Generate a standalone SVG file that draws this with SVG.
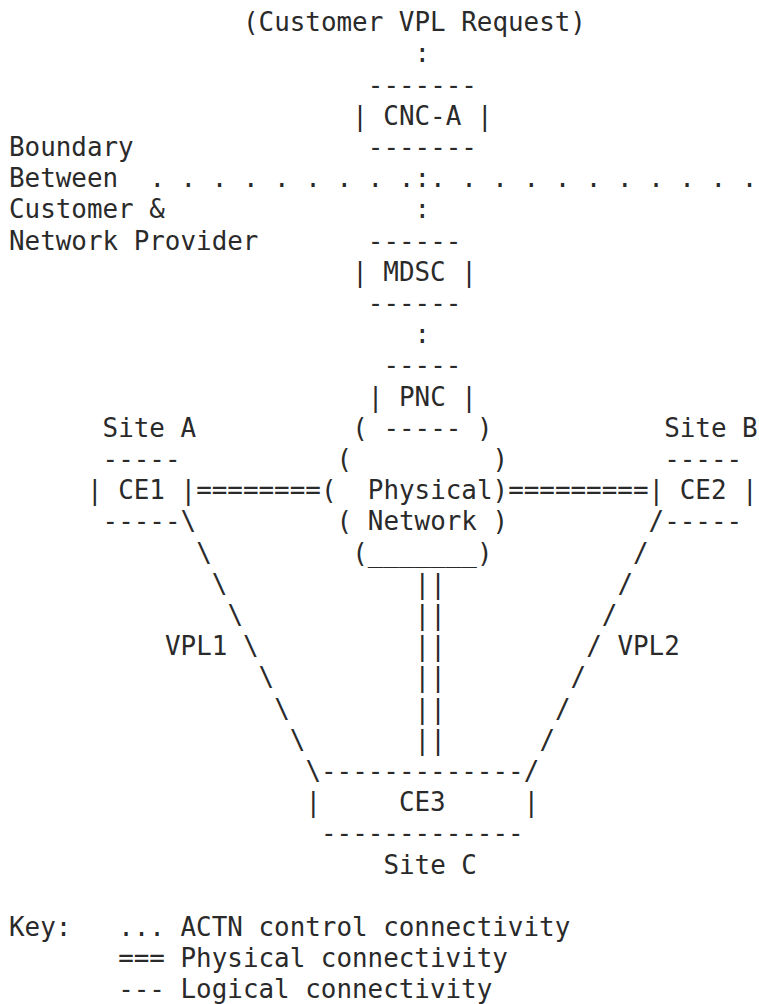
<svg xmlns="http://www.w3.org/2000/svg" width="759" height="1004" viewBox="0 0 759 1004" xml:space="preserve">
<style>
text{font-family:"DejaVu Sans Mono","Liberation Mono",monospace;font-size:25.9px;fill:#2a2a2a;white-space:pre}
</style>
<rect width="759" height="1004" fill="#fff"/>
<g id="customer-request"><text x="243" y="31.2">(Customer VPL Request)</text></g>
<g id="cnc-a">
<text x="367.8" y="93.6">-------</text>
<text x="352.2" y="124.8">| CNC-A |</text>
<text x="367.8" y="156">-------</text>
</g>
<g id="boundary-label">
<text x="9" y="156">Boundary</text>
<text x="9" y="187.2">Between</text>
<text x="9" y="218.4">Customer &amp;</text>
<text x="9" y="249.6">Network Provider</text>
</g>
<g id="boundary-line"><text x="149.4" y="187.2">. . . . . . . . .:. . . . . . . . . . .</text></g>
<g id="mdsc">
<text x="367.8" y="249.6">------</text>
<text x="352.2" y="280.8">| MDSC |</text>
<text x="367.8" y="312">------</text>
</g>
<g id="pnc">
<text x="383.4" y="374.4">-----</text>
<text x="367.8" y="405.6">| PNC |</text>
<text x="383.4" y="436.8">-----</text>
</g>
<g id="physical-network">
<text x="352.2" y="436.8">(</text><text x="477" y="436.8">)</text>
<text x="336.6" y="468">(</text><text x="492.6" y="468">)</text>
<text x="321" y="499.2">(</text><text x="367.8" y="499.2">Physical</text><text x="492.6" y="499.2">)</text>
<text x="336.6" y="530.4">(</text><text x="367.8" y="530.4">Network</text><text x="492.6" y="530.4">)</text>
<text x="352.2" y="561.6">(_______)</text>
</g>
<g id="site-a">
<text x="102.6" y="436.8">Site A</text>
<text x="102.6" y="468">-----</text>
<text x="87" y="499.2">| CE1 |</text>
<text x="102.6" y="530.4">-----</text>
</g>
<g id="site-b">
<text x="664.2" y="436.8">Site B</text>
<text x="664.2" y="468">-----</text>
<text x="648.6" y="499.2">| CE2 |</text>
<text x="664.2" y="530.4">-----</text>
</g>
<g id="site-c">
<text x="321" y="780">-------------</text>
<text x="305.4" y="811.2">|     CE3     |</text>
<text x="321" y="842.4">-------------</text>
<text x="383.4" y="873.6">Site C</text>
</g>
<g id="connectors">
<text x="414.6" y="62.4">:</text>
<text x="414.6" y="218.4">:</text>
<text x="414.6" y="343.2">:</text>
<text x="196.2" y="499.2">========</text>
<text x="508.2" y="499.2">=========</text>
<text x="180.6" y="530.4">\</text>
<text x="196.2" y="561.6">\</text>
<text x="211.8" y="592.8">\</text>
<text x="227.4" y="624">\</text>
<text x="243" y="655.2">\</text>
<text x="258.6" y="686.4">\</text>
<text x="274.2" y="717.6">\</text>
<text x="289.8" y="748.8">\</text>
<text x="305.4" y="780">\</text>
<text x="648.6" y="530.4">/</text>
<text x="633" y="561.6">/</text>
<text x="617.4" y="592.8">/</text>
<text x="601.8" y="624">/</text>
<text x="586.2" y="655.2">/</text>
<text x="570.6" y="686.4">/</text>
<text x="555" y="717.6">/</text>
<text x="539.4" y="748.8">/</text>
<text x="523.8" y="780">/</text>
<text x="414.6" y="592.8">||</text>
<text x="414.6" y="624">||</text>
<text x="414.6" y="655.2">||</text>
<text x="414.6" y="686.4">||</text>
<text x="414.6" y="717.6">||</text>
<text x="414.6" y="748.8">||</text>
<text x="165" y="655.2">VPL1</text>
<text x="617.4" y="655.2">VPL2</text>
</g>
<g id="key">
<text x="9" y="936">Key:</text>
<text x="118.2" y="936">... ACTN control connectivity</text>
<text x="118.2" y="967.2">=== Physical connectivity</text>
<text x="118.2" y="998.4">--- Logical connectivity</text>
</g>
</svg>
